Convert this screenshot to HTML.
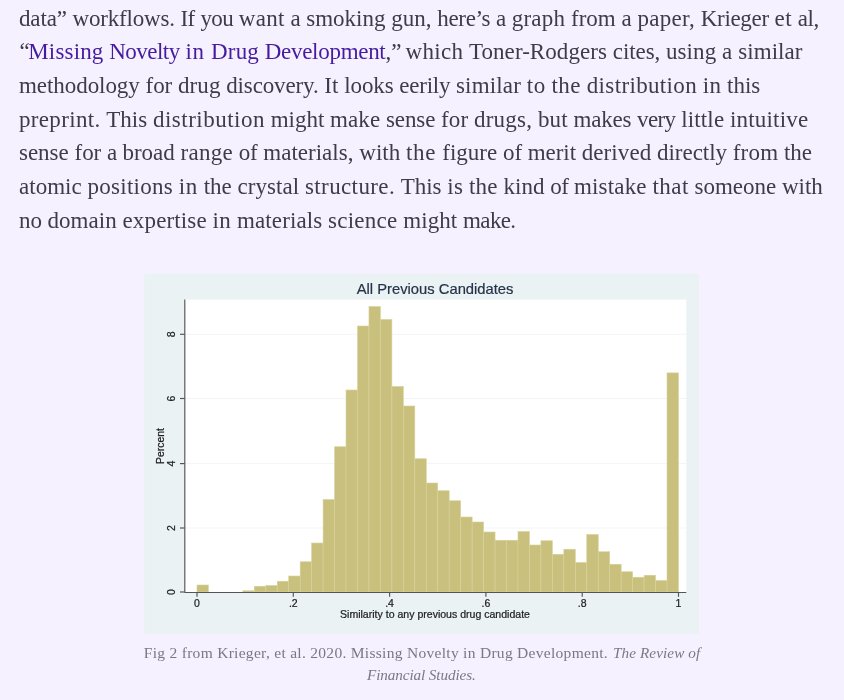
<!DOCTYPE html>
<html lang="en"><head><meta charset="utf-8"><title>Missing Novelty</title>
<style>
html,body{margin:0;padding:0}
body{width:844px;height:700px;overflow:hidden;background:#f5f1fe;position:relative;font-family:"Liberation Serif",serif;color:#3e3b4b}
.ln{position:absolute;left:19px;white-space:nowrap;font-size:23px;line-height:34px;height:34px}
.ln span{position:absolute;top:0;white-space:pre}
.ln a{color:#461ba0;text-decoration:none}
.cap{position:absolute;white-space:nowrap;font-size:16px;line-height:22px;color:#7b7785}
svg{position:absolute;left:0;top:0;filter:blur(0.35px)}
svg text{font-family:"Liberation Sans",sans-serif}
</style></head><body>

<div class="ln" style="top:2px"><span style="left:0.00px;letter-spacing:-0.15px">data” </span><span style="left:53.50px;letter-spacing:-0.19px">workflows. </span><span style="left:161.50px;letter-spacing:-0.54px">If </span><span style="left:181.50px;letter-spacing:-0.67px">you </span><span style="left:219.75px;letter-spacing:0.32px">want </span><span style="left:271.50px;letter-spacing:-0.22px">a </span><span style="left:287.25px;letter-spacing:0.00px">smoking </span><span style="left:372.25px;letter-spacing:0.00px">gun, </span><span style="left:418.25px;letter-spacing:-0.32px">here’s </span><span style="left:477.00px;letter-spacing:-0.22px">a </span><span style="left:492.75px;letter-spacing:0.23px">graph </span><span style="left:552.00px;letter-spacing:0.01px">from </span><span style="left:602.50px;letter-spacing:0.03px">a </span><span style="left:618.50px;letter-spacing:0.27px">paper, </span><span style="left:681.75px;letter-spacing:-0.32px">Krieger </span><span style="left:755.50px;letter-spacing:0.45px">et </span><span style="left:778.75px;letter-spacing:-0.45px">al,</span></div>
<div class="ln" style="top:35px"><span style="left:0.50px;letter-spacing:0.00px">“</span><a href="#"><span style="left:9.25px;letter-spacing:0.16px">Missing </span><span style="left:90.25px;letter-spacing:-0.52px">Novelty </span><span style="left:166.50px;letter-spacing:0.70px">in </span><span style="left:192.00px;letter-spacing:0.18px">Drug </span><span style="left:245.75px;letter-spacing:-0.29px">Development</span></a><span style="left:366.50px;letter-spacing:0.00px">,” </span><span style="left:386.50px;letter-spacing:0.31px">which </span><span style="left:450.00px;letter-spacing:0.06px">Toner-Rodgers </span><span style="left:593.75px;letter-spacing:-0.07px">cites, </span><span style="left:647.00px;letter-spacing:0.08px">using </span><span style="left:703.00px;letter-spacing:0.28px">a </span><span style="left:719.25px;letter-spacing:0.05px">similar</span></div>
<div class="ln" style="top:69px"><span style="left:0.00px;letter-spacing:-0.06px">methodology </span><span style="left:126.50px;letter-spacing:-0.03px">for </span><span style="left:159.00px;letter-spacing:0.08px">drug </span><span style="left:207.25px;letter-spacing:-0.14px">discovery. </span><span style="left:305.25px;letter-spacing:0.09px">It </span><span style="left:325.25px;letter-spacing:-0.12px">looks </span><span style="left:380.25px;letter-spacing:-0.23px">eerily </span><span style="left:437.00px;letter-spacing:0.16px">similar </span><span style="left:507.75px;letter-spacing:0.55px">to </span><span style="left:532.50px;letter-spacing:0.46px">the </span><span style="left:567.75px;letter-spacing:0.35px">distribution </span><span style="left:683.75px;letter-spacing:0.30px">in </span><span style="left:708.00px;letter-spacing:0.00px">this</span></div>
<div class="ln" style="top:103px"><span style="left:0.00px;letter-spacing:0.33px">preprint. </span><span style="left:87.25px;letter-spacing:0.03px">This </span><span style="left:134.00px;letter-spacing:0.49px">distribution </span><span style="left:251.75px;letter-spacing:-0.03px">might </span><span style="left:311.00px;letter-spacing:0.11px">make </span><span style="left:367.00px;letter-spacing:-0.12px">sense </span><span style="left:422.00px;letter-spacing:0.14px">for </span><span style="left:455.00px;letter-spacing:0.23px">drugs, </span><span style="left:519.00px;letter-spacing:0.12px">but </span><span style="left:554.50px;letter-spacing:-0.20px">makes </span><span style="left:618.00px;letter-spacing:-0.59px">very </span><span style="left:662.25px;letter-spacing:0.14px">little </span><span style="left:711.00px;letter-spacing:0.18px">intuitive</span></div>
<div class="ln" style="top:136px"><span style="left:0.00px;letter-spacing:-0.02px">sense </span><span style="left:55.50px;letter-spacing:-0.03px">for </span><span style="left:88.00px;letter-spacing:-0.47px">a </span><span style="left:103.50px;letter-spacing:-0.03px">broad </span><span style="left:161.50px;letter-spacing:0.28px">range </span><span style="left:219.75px;letter-spacing:-0.21px">of </span><span style="left:244.25px;letter-spacing:0.02px">materials, </span><span style="left:340.25px;letter-spacing:0.03px">with </span><span style="left:387.00px;letter-spacing:0.70px">the </span><span style="left:423.25px;letter-spacing:0.01px">figure </span><span style="left:484.00px;letter-spacing:-0.09px">of </span><span style="left:508.75px;letter-spacing:-0.06px">merit </span><span style="left:562.75px;letter-spacing:0.08px">derived </span><span style="left:638.00px;letter-spacing:-0.03px">directly </span><span style="left:713.75px;letter-spacing:0.20px">from </span><span style="left:765.00px;letter-spacing:-0.04px">the</span></div>
<div class="ln" style="top:170px"><span style="left:0.00px;letter-spacing:0.03px">atomic </span><span style="left:68.50px;letter-spacing:0.27px">positions </span><span style="left:159.75px;letter-spacing:0.68px">in </span><span style="left:184.75px;letter-spacing:-0.04px">the </span><span style="left:218.50px;letter-spacing:0.06px">crystal </span><span style="left:286.00px;letter-spacing:0.38px">structure. </span><span style="left:381.75px;letter-spacing:-0.04px">This </span><span style="left:428.25px;letter-spacing:0.33px">is </span><span style="left:450.00px;letter-spacing:0.21px">the </span><span style="left:484.50px;letter-spacing:0.03px">kind </span><span style="left:531.25px;letter-spacing:-0.59px">of </span><span style="left:555.00px;letter-spacing:0.17px">mistake </span><span style="left:633.50px;letter-spacing:0.44px">that </span><span style="left:675.50px;letter-spacing:-0.00px">someone </span><span style="left:763.00px;letter-spacing:-0.04px">with</span></div>
<div class="ln" style="top:204px"><span style="left:0.00px;letter-spacing:-0.12px">no </span><span style="left:28.50px;letter-spacing:0.04px">domain </span><span style="left:103.50px;letter-spacing:0.14px">expertise </span><span style="left:193.50px;letter-spacing:0.43px">in </span><span style="left:218.00px;letter-spacing:0.11px">materials </span><span style="left:309.00px;letter-spacing:0.26px">science </span><span style="left:384.25px;letter-spacing:0.07px">might </span><span style="left:444.00px;letter-spacing:-0.61px">make.</span></div>
<svg width="844" height="700" viewBox="0 0 844 700">
<rect x="144.3" y="273.7" width="554.7" height="359.7" fill="#eaf2f4"/>
<rect x="184.8" y="299.6" width="501.5" height="293.2" fill="#ffffff"/>
<line x1="184.8" x2="686.3" y1="334.3" y2="334.3" stroke="#edf2f5" stroke-width="0.8"/>
<line x1="184.8" x2="686.3" y1="398.5" y2="398.5" stroke="#edf2f5" stroke-width="0.8"/>
<line x1="184.8" x2="686.3" y1="463.6" y2="463.6" stroke="#edf2f5" stroke-width="0.8"/>
<line x1="184.8" x2="686.3" y1="528.0" y2="528.0" stroke="#edf2f5" stroke-width="0.8"/>
<rect x="197.00" y="585.00" width="11.46" height="7.00" fill="#c9c07e" stroke="#d8d29a" stroke-width="0.6"/>
<rect x="242.86" y="590.75" width="11.46" height="1.25" fill="#c9c07e" stroke="#d8d29a" stroke-width="0.6"/>
<rect x="254.32" y="586.25" width="11.46" height="5.75" fill="#c9c07e" stroke="#d8d29a" stroke-width="0.6"/>
<rect x="265.78" y="585.50" width="11.46" height="6.50" fill="#c9c07e" stroke="#d8d29a" stroke-width="0.6"/>
<rect x="277.25" y="581.25" width="11.46" height="10.75" fill="#c9c07e" stroke="#d8d29a" stroke-width="0.6"/>
<rect x="288.71" y="576.00" width="11.46" height="16.00" fill="#c9c07e" stroke="#d8d29a" stroke-width="0.6"/>
<rect x="300.18" y="561.75" width="11.46" height="30.25" fill="#c9c07e" stroke="#d8d29a" stroke-width="0.6"/>
<rect x="311.64" y="543.00" width="11.46" height="49.00" fill="#c9c07e" stroke="#d8d29a" stroke-width="0.6"/>
<rect x="323.10" y="499.50" width="11.46" height="92.50" fill="#c9c07e" stroke="#d8d29a" stroke-width="0.6"/>
<rect x="334.57" y="446.75" width="11.46" height="145.25" fill="#c9c07e" stroke="#d8d29a" stroke-width="0.6"/>
<rect x="346.03" y="390.00" width="11.46" height="202.00" fill="#c9c07e" stroke="#d8d29a" stroke-width="0.6"/>
<rect x="357.50" y="326.00" width="11.46" height="266.00" fill="#c9c07e" stroke="#d8d29a" stroke-width="0.6"/>
<rect x="368.96" y="306.50" width="11.46" height="285.50" fill="#c9c07e" stroke="#d8d29a" stroke-width="0.6"/>
<rect x="380.42" y="319.50" width="11.46" height="272.50" fill="#c9c07e" stroke="#d8d29a" stroke-width="0.6"/>
<rect x="391.89" y="386.50" width="11.46" height="205.50" fill="#c9c07e" stroke="#d8d29a" stroke-width="0.6"/>
<rect x="403.35" y="406.00" width="11.46" height="186.00" fill="#c9c07e" stroke="#d8d29a" stroke-width="0.6"/>
<rect x="414.82" y="458.75" width="11.46" height="133.25" fill="#c9c07e" stroke="#d8d29a" stroke-width="0.6"/>
<rect x="426.28" y="483.00" width="11.46" height="109.00" fill="#c9c07e" stroke="#d8d29a" stroke-width="0.6"/>
<rect x="437.74" y="490.75" width="11.46" height="101.25" fill="#c9c07e" stroke="#d8d29a" stroke-width="0.6"/>
<rect x="449.21" y="500.75" width="11.46" height="91.25" fill="#c9c07e" stroke="#d8d29a" stroke-width="0.6"/>
<rect x="460.67" y="517.00" width="11.46" height="75.00" fill="#c9c07e" stroke="#d8d29a" stroke-width="0.6"/>
<rect x="472.14" y="522.00" width="11.46" height="70.00" fill="#c9c07e" stroke="#d8d29a" stroke-width="0.6"/>
<rect x="483.60" y="532.00" width="11.46" height="60.00" fill="#c9c07e" stroke="#d8d29a" stroke-width="0.6"/>
<rect x="495.06" y="540.25" width="11.46" height="51.75" fill="#c9c07e" stroke="#d8d29a" stroke-width="0.6"/>
<rect x="506.53" y="540.25" width="11.46" height="51.75" fill="#c9c07e" stroke="#d8d29a" stroke-width="0.6"/>
<rect x="517.99" y="531.50" width="11.46" height="60.50" fill="#c9c07e" stroke="#d8d29a" stroke-width="0.6"/>
<rect x="529.46" y="545.00" width="11.46" height="47.00" fill="#c9c07e" stroke="#d8d29a" stroke-width="0.6"/>
<rect x="540.92" y="540.75" width="11.46" height="51.25" fill="#c9c07e" stroke="#d8d29a" stroke-width="0.6"/>
<rect x="552.38" y="554.25" width="11.46" height="37.75" fill="#c9c07e" stroke="#d8d29a" stroke-width="0.6"/>
<rect x="563.85" y="549.25" width="11.46" height="42.75" fill="#c9c07e" stroke="#d8d29a" stroke-width="0.6"/>
<rect x="575.31" y="562.50" width="11.46" height="29.50" fill="#c9c07e" stroke="#d8d29a" stroke-width="0.6"/>
<rect x="586.78" y="534.50" width="11.46" height="57.50" fill="#c9c07e" stroke="#d8d29a" stroke-width="0.6"/>
<rect x="598.24" y="551.75" width="11.46" height="40.25" fill="#c9c07e" stroke="#d8d29a" stroke-width="0.6"/>
<rect x="609.70" y="564.25" width="11.46" height="27.75" fill="#c9c07e" stroke="#d8d29a" stroke-width="0.6"/>
<rect x="621.17" y="571.75" width="11.46" height="20.25" fill="#c9c07e" stroke="#d8d29a" stroke-width="0.6"/>
<rect x="632.63" y="577.25" width="11.46" height="14.75" fill="#c9c07e" stroke="#d8d29a" stroke-width="0.6"/>
<rect x="644.10" y="575.25" width="11.46" height="16.75" fill="#c9c07e" stroke="#d8d29a" stroke-width="0.6"/>
<rect x="655.56" y="580.50" width="11.46" height="11.50" fill="#c9c07e" stroke="#d8d29a" stroke-width="0.6"/>
<rect x="667.02" y="372.90" width="11.46" height="219.10" fill="#c9c07e" stroke="#d8d29a" stroke-width="0.6"/>
<line x1="184.8" x2="184.8" y1="299.6" y2="592.8" stroke="#555" stroke-width="1.15"/>
<line x1="184.8" x2="686.3" y1="592.5" y2="592.5" stroke="#555" stroke-width="1.15"/>
<line x1="197.0" x2="197.0" y1="592.5" y2="596.8" stroke="#555" stroke-width="1.15"/>
<text x="197.0" y="606.8" font-size="10.5" text-anchor="middle" fill="#222" stroke="#222" stroke-width="0.22">0</text>
<line x1="293.3" x2="293.3" y1="592.5" y2="596.8" stroke="#555" stroke-width="1.15"/>
<text x="293.3" y="606.8" font-size="10.5" text-anchor="middle" fill="#222" stroke="#222" stroke-width="0.22">.2</text>
<line x1="389.6" x2="389.6" y1="592.5" y2="596.8" stroke="#555" stroke-width="1.15"/>
<text x="389.6" y="606.8" font-size="10.5" text-anchor="middle" fill="#222" stroke="#222" stroke-width="0.22">.4</text>
<line x1="485.9" x2="485.9" y1="592.5" y2="596.8" stroke="#555" stroke-width="1.15"/>
<text x="485.9" y="606.8" font-size="10.5" text-anchor="middle" fill="#222" stroke="#222" stroke-width="0.22">.6</text>
<line x1="582.2" x2="582.2" y1="592.5" y2="596.8" stroke="#555" stroke-width="1.15"/>
<text x="582.2" y="606.8" font-size="10.5" text-anchor="middle" fill="#222" stroke="#222" stroke-width="0.22">.8</text>
<line x1="678.5" x2="678.5" y1="592.5" y2="596.8" stroke="#555" stroke-width="1.15"/>
<text x="678.5" y="606.8" font-size="10.5" text-anchor="middle" fill="#222" stroke="#222" stroke-width="0.22">1</text>
<line x1="180.0" x2="184.8" y1="592.0" y2="592.0" stroke="#555" stroke-width="1.15"/>
<text transform="translate(174.9 592.0) rotate(-90)" font-size="10.5" text-anchor="middle" fill="#222" stroke="#222" stroke-width="0.22">0</text>
<line x1="180.0" x2="184.8" y1="528.0" y2="528.0" stroke="#555" stroke-width="1.15"/>
<text transform="translate(174.9 528.0) rotate(-90)" font-size="10.5" text-anchor="middle" fill="#222" stroke="#222" stroke-width="0.22">2</text>
<line x1="180.0" x2="184.8" y1="463.6" y2="463.6" stroke="#555" stroke-width="1.15"/>
<text transform="translate(174.9 463.6) rotate(-90)" font-size="10.5" text-anchor="middle" fill="#222" stroke="#222" stroke-width="0.22">4</text>
<line x1="180.0" x2="184.8" y1="398.5" y2="398.5" stroke="#555" stroke-width="1.15"/>
<text transform="translate(174.9 398.5) rotate(-90)" font-size="10.5" text-anchor="middle" fill="#222" stroke="#222" stroke-width="0.22">6</text>
<line x1="180.0" x2="184.8" y1="334.3" y2="334.3" stroke="#555" stroke-width="1.15"/>
<text transform="translate(174.9 334.3) rotate(-90)" font-size="10.5" text-anchor="middle" fill="#222" stroke="#222" stroke-width="0.22">8</text>
<text transform="translate(164.2 446) rotate(-90)" font-size="10.4" text-anchor="middle" fill="#222" stroke="#222" stroke-width="0.22">Percent</text>
<text x="435" y="618.3" font-size="10.55" text-anchor="middle" fill="#222" stroke="#222" stroke-width="0.22">Similarity to any previous drug candidate</text>
<text x="435.1" y="294.1" font-size="14.78" text-anchor="middle" fill="#263248" stroke="#263248" stroke-width="0.2">All Previous Candidates</text>
</svg>
<div class="cap" style="left:143.75px;top:642px;font-size:15.5px;letter-spacing:0.292px">Fig 2 from Krieger, et al. 2020. Missing Novelty in Drug Development.</div>
<div class="cap" style="left:613px;top:642px;font-size:15.2px;letter-spacing:0.093px"><i>The Review of</i></div>
<div class="cap" style="left:367px;top:664px;font-size:15.2px;letter-spacing:-0.099px"><i>Financial Studies.</i></div>
</body></html>
